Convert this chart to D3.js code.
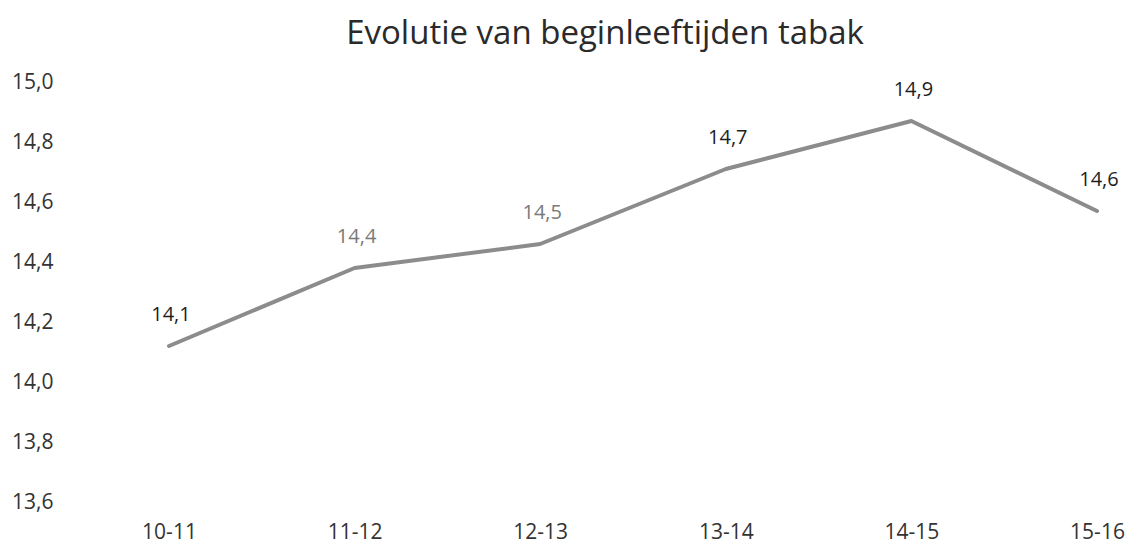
<!DOCTYPE html>
<html>
<head>
<meta charset="utf-8">
<script src="https://cdn.jsdelivr.net/npm/d3@7"></script>
<style>
    body { margin: 0; background: #fff; }
    svg text { font-family: "Open Sans", "Noto Sans", sans-serif; }
</style>
</head>
<body>
<svg id="chart"></svg>
<script>
// Chart data
const seasons = ['10-11', '11-12', '12-13', '13-14', '14-15', '15-16'];
const startAge = [14.12, 14.38, 14.46, 14.71, 14.87, 14.57];
const yTicks = [13.6, 13.8, 14.0, 14.2, 14.4, 14.6, 14.8, 15.0];

const width = 1126;
const height = 546;

const svg = d3.select('#chart')
    .attr('width', width)
    .attr('height', height);

const x = d3.scalePoint()
    .domain(seasons)
    .range([169, 1097]);

const y = d3.scaleLinear()
    .domain([13.6, 15.0])
    .range([502, 82]);

const fmt = v => d3.format('.1f')(v).replace('.', ',');

// Title
svg.append('text')
    .attr('x', 605)
    .attr('y', 44)
    .attr('text-anchor', 'middle')
    .attr('font-size', 33)
    .attr('fill', '#2a2a2a')
    .text('Evolutie van beginleeftijden tabak');

// Y axis (labels only)
const yAxis = svg.append('g')
    .attr('transform', 'translate(12,0)')
    .call(d3.axisLeft(y).tickValues(yTicks).tickFormat(fmt).tickSize(0).tickPadding(0));
yAxis.select('.domain').remove();
yAxis.selectAll('text')
    .attr('text-anchor', 'start')
    .attr('font-size', 21)
    .attr('fill', '#333');

// X axis (labels only)
const xAxis = svg.append('g')
    .attr('transform', 'translate(0,532)')
    .call(d3.axisBottom(x).tickSize(0).tickPadding(0));
xAxis.select('.domain').remove();
xAxis.selectAll('text')
    .attr('dy', '0.35em')
    .attr('font-size', 21)
    .attr('fill', '#333');

// Line
const line = d3.line()
    .x((d, i) => x(seasons[i]))
    .y(d => y(d));

svg.append('path')
    .datum(startAge)
    .attr('fill', 'none')
    .attr('stroke', '#8c8c8c')
    .attr('stroke-width', 4)
    .attr('stroke-linejoin', 'round')
    .attr('stroke-linecap', 'round')
    .attr('d', line);

// Data labels (the scan shows two of them lighter)
const lightLabels = ['11-12', '12-13'];
svg.append('g')
    .selectAll('text')
    .data(startAge)
    .enter().append('text')
    .attr('x', (d, i) => x(seasons[i]) + 2)
    .attr('y', d => y(d) - 32)
    .attr('dy', '0.35em')
    .attr('text-anchor', 'middle')
    .attr('font-size', 20)
    .attr('fill', (d, i) => lightLabels.includes(seasons[i]) ? '#7a7a7a' : '#1e1e1e')
    .text(d => fmt(d));
</script>
</body>
</html>
